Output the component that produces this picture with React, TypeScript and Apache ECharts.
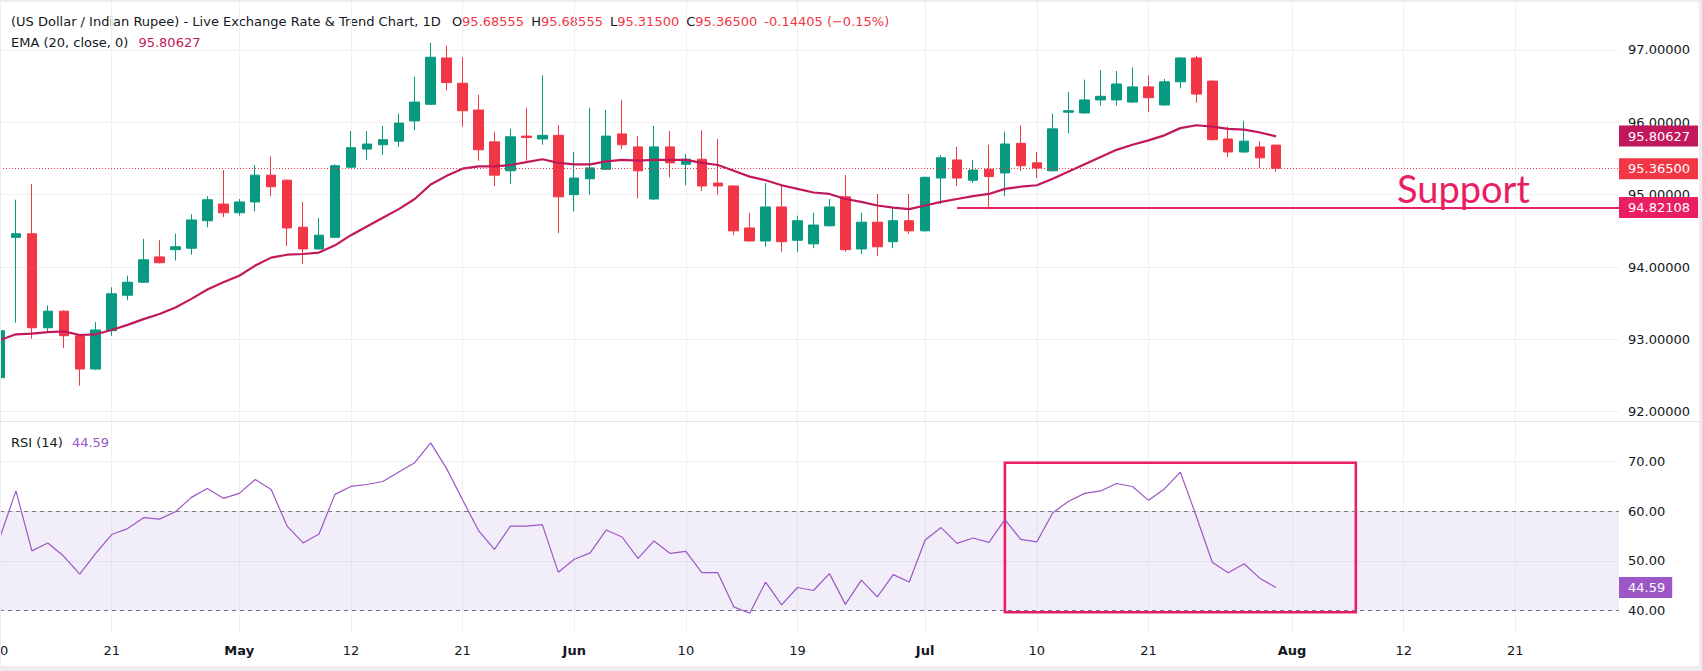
import React, { useEffect, useRef } from "react";
import * as echarts from "echarts";

// ---------- DATA (daily bars, Apr 10 .. Jul 31, weekdays) ----------
const opens = [
  92.47, 94.41, 94.46, 93.16, 93.39, 93.05, 92.59, 93.12, 93.61, 93.79,
  94.14, 94.24, 94.26, 94.64, 94.87, 94.75, 94.9, 95.27, 95.2, 94.55,
  94.25, 94.41, 95.38, 95.63, 95.69, 95.74, 96.02, 96.25, 96.89, 96.54,
  96.17, 95.73, 95.33, 95.81, 95.77, 95.82, 95.0, 95.22, 95.35, 95.84,
  95.66, 94.94, 95.66, 95.42, 95.49, 95.16, 95.12, 94.54, 94.36, 94.83,
  94.37, 94.32, 94.57, 94.97, 94.25, 94.62, 94.35, 94.64, 94.5, 95.23,
  95.48, 95.2, 95.35, 95.3, 95.71, 95.44, 95.33, 96.14, 96.13, 96.31,
  96.31, 96.28, 96.49, 96.24, 96.56, 96.89, 96.57, 95.77, 95.59, 95.66,
  95.68555,
];
const highs = [
  93.14, 94.93, 95.15, 93.47, 93.4, 93.06, 93.24, 93.72, 93.88, 94.39,
  94.37, 94.46, 94.73, 94.98, 95.34, 94.94, 95.41, 95.53, 95.21, 94.9,
  94.68, 95.42, 95.88, 95.88, 95.95, 96.12, 96.63, 97.1, 97.06, 96.9,
  96.38, 95.87, 95.91, 96.2, 96.65, 95.96, 95.59, 96.2, 96.17, 96.31,
  95.81, 95.95, 95.88, 95.56, 95.89, 95.77, 95.13, 94.75, 95.16, 95.15,
  94.71, 94.75, 94.94, 95.27, 94.75, 95.01, 94.83, 95.01, 95.25, 95.55,
  95.66, 95.48, 95.69, 95.87, 95.96, 95.59, 96.12, 96.42, 96.59, 96.72,
  96.71, 96.76, 96.65, 96.6, 96.9, 96.92, 96.58, 95.94, 96.02, 95.74,
  95.68555,
];
const lows = [
  92.45, 93.23, 93.01, 93.09, 92.88, 92.36, 92.58, 93.05, 93.54, 93.78,
  94.05, 94.09, 94.17, 94.55, 94.69, 94.71, 94.77, 94.98, 94.29, 94.04,
  94.24, 94.4, 95.37, 95.48, 95.55, 95.66, 95.89, 96.24, 96.44, 95.94,
  95.47, 95.12, 95.15, 95.47, 95.69, 94.47, 94.77, 95.0, 95.34, 95.63,
  94.95, 94.93, 95.24, 95.13, 95.05, 95.0, 94.44, 94.35, 94.28, 94.21,
  94.21, 94.26, 94.56, 94.21, 94.18, 94.15, 94.26, 94.46, 94.49, 94.87,
  95.12, 95.16, 94.8, 94.98, 95.33, 95.23, 95.32, 95.85, 96.12, 96.23,
  96.23, 96.27, 96.14, 96.23, 96.47, 96.27, 95.75, 95.52, 95.58, 95.37,
  95.315,
];
const closes = [
  93.12, 94.46, 93.16, 93.39, 93.05, 92.59, 93.13, 93.63, 93.79, 94.1,
  94.06, 94.28, 94.65, 94.93, 94.75, 94.9, 95.27, 95.11, 94.54, 94.25,
  94.44, 95.4, 95.65, 95.7, 95.76, 95.99, 96.28, 96.9, 96.55, 96.16,
  95.62, 95.27, 95.8, 95.79, 95.82, 94.97, 95.23, 95.37, 95.81, 95.69,
  95.33, 95.66, 95.44, 95.49, 95.12, 95.12, 94.5, 94.36, 94.83, 94.35,
  94.64, 94.58, 94.83, 94.24, 94.62, 94.28, 94.64, 94.5, 95.24, 95.51,
  95.23, 95.34, 95.25, 95.7, 95.4, 95.37, 95.91, 96.16, 96.31, 96.36,
  96.53, 96.49, 96.34, 96.56, 96.89, 96.39, 95.76, 95.59, 95.74, 95.50905,
  95.365,
];
const ema20 = [
  92.99, 93.07, 93.08, 93.1, 93.11, 93.06, 93.07, 93.13, 93.2, 93.28,
  93.35, 93.44, 93.56, 93.69, 93.79, 93.88, 94.02, 94.13, 94.17, 94.18,
  94.2, 94.3, 94.44, 94.56, 94.68, 94.8, 94.94, 95.14, 95.26, 95.36,
  95.39, 95.39, 95.41, 95.45, 95.49, 95.44, 95.42, 95.42, 95.46, 95.48,
  95.47, 95.48, 95.48, 95.48, 95.44, 95.41, 95.33, 95.25, 95.2, 95.13,
  95.08, 95.03, 95.01, 94.94, 94.9, 94.85, 94.82, 94.8, 94.85, 94.9,
  94.94, 94.98, 95.01, 95.08, 95.11, 95.13, 95.22, 95.32, 95.42, 95.52,
  95.62, 95.69, 95.75, 95.82, 95.92, 95.96, 95.94, 95.91, 95.9, 95.86,
  95.80627,
];
const rsi14 = [
  54.8, 64.1, 52.0, 53.6, 50.9, 47.3, 51.5, 55.3, 56.5, 58.7,
  58.4, 59.9, 62.8, 64.6, 62.6, 63.6, 66.4, 64.4, 57.0, 53.6,
  55.4, 63.4, 65.0, 65.4, 66.0, 67.9, 69.8, 73.8, 68.6, 62.3,
  56.1, 52.3, 57.0, 57.0, 57.3, 47.7, 50.3, 51.6, 56.2, 54.8,
  50.5, 54.0, 51.5, 51.9, 47.6, 47.6, 40.7, 39.4, 45.7, 41.1,
  44.6, 44.0, 47.4, 41.2, 46.1, 42.7, 47.2, 45.7, 54.2, 56.7,
  53.5, 54.6, 53.7, 58.3, 54.3, 53.8, 59.7, 62.0, 63.6, 64.1,
  65.6, 65.0, 62.2, 64.5, 67.9, 59.0, 49.7, 47.6, 49.4, 46.4,
  44.59,
];
// time-axis ticks (bar index -> label)
const tickIndex = [0, 7, 15, 22, 29, 36, 43, 50, 58, 65, 72, 81, 88, 95];
const tickText = ["10", "21", "May", "12", "21", "Jun", "10", "19", "Jul", "10", "21", "Aug", "12", "21"];
const priceTicks = [92, 93, 94, 95, 96, 97];
const rsiTicks = [40, 50, 60, 70];
const rsiBands = [40, 60];
const supportLevel = 94.82108;
const supportStartIndex = 60;
const supportLabelIndex = 91.75;
const rsiBoxRange = [63, 85];
const rsiBoxLevels = [69.8, 39.6];

// ---------- STYLE ----------
const UP = "#089981";
const DOWN = "#F23645";
const EMA_C = "#C2185B";
const SUP_C = "#E91E63";
const RSI_C = "#9C56C5";
const TXT = "#131722";
const GRIDC = "#F0F0F3";
const FONT = "DejaVu Sans";
const FS = 13;
const X_MIN = 0;
const X_MAX = 101.5;
const CLEAR = "rgba(0,0,0,0)";

function tag(bg: string, text: string) {
  return {
    show: true,
    position: "end",
    distance: 0,
    formatter: text,
    color: "#ffffff",
    backgroundColor: bg,
    padding: [4, 8, 4, 9],
    fontSize: FS,
    lineHeight: 13,
    fontFamily: FONT,
  };
}

function buildOption() {
  const n = closes.length;
  const last = n - 1;
  const candleData = opens.map((o, i) => [i, o, closes[i], lows[i], highs[i]]);
  const emaData = ema20.map((v, i) => [i, v]);
  const rsiData = rsi14.map((v, i) => [i, v]);
  const lastClose = closes[last];
  const lastEma = ema20[last];
  const lastRsi = rsi14[last];
  const chg = closes[last] - closes[last - 1];
  const pct = (chg / closes[last - 1]) * 100;
  const chgStr = chg.toFixed(5);
  const pctStr = (pct < 0 ? "\u2212" : "+") + Math.abs(pct).toFixed(2) + "%";

  const titleText =
    "{t|(US Dollar / Indian Rupee) - Live Exchange Rate & Trend Chart, 1D}{G| }" +
    `{t|O}{v|${opens[last].toFixed(5)}}{g| }` +
    `{t|H}{v|${highs[last].toFixed(5)}}{g| }` +
    `{t|L}{v|${lows[last].toFixed(5)}}{g| }` +
    `{t|C}{v|${closes[last].toFixed(5)}}{g| }` +
    `{v|${chgStr} (${pctStr})}`;

  const baseFont = { fontFamily: FONT, fontSize: FS };

  return {
    animation: false,
    textStyle: { fontFamily: FONT },
    grid: [
      { left: 0, top: 2, width: 1619, height: 419, containLabel: false, outerBoundsMode: "none" },
      { left: 0, top: 421, width: 1619, height: 211, containLabel: false, outerBoundsMode: "none" },
    ],
    xAxis: [
      {
        type: "value",
        gridIndex: 0,
        min: X_MIN,
        max: X_MAX,
        axisLine: { show: false },
        axisTick: { show: false, customValues: tickIndex },
        axisLabel: { show: false, customValues: tickIndex },
        splitLine: { show: true, lineStyle: { color: GRIDC, width: 1 } },
      },
      {
        type: "value",
        gridIndex: 1,
        min: X_MIN,
        max: X_MAX,
        axisLine: { show: false },
        axisTick: { show: false, customValues: tickIndex },
        axisLabel: {
          customValues: tickIndex,
          margin: 12,
          color: TXT,
          fontSize: FS,
          fontFamily: FONT,
          formatter: (v: number) => {
            const k = tickIndex.indexOf(Math.round(v));
            if (k < 0) return "";
            const t = tickText[k];
            return isNaN(Number(t)) ? `{b|${t}}` : `{n|${t}}`;
          },
          rich: {
            b: { ...baseFont, fontWeight: "bold", color: TXT },
            n: { ...baseFont, color: TXT },
          },
        },
        splitLine: { show: true, lineStyle: { color: GRIDC, width: 1 } },
      },
    ],
    yAxis: [
      {
        type: "value",
        gridIndex: 0,
        position: "right",
        min: 91.8714,
        max: 97.6635,
        axisLine: { show: false },
        axisTick: { show: false, customValues: priceTicks },
        axisLabel: {
          customValues: priceTicks,
          margin: 9,
          color: TXT,
          fontSize: FS,
          fontFamily: FONT,
          formatter: (v: number) => v.toFixed(5),
        },
        splitLine: { show: true, lineStyle: { color: GRIDC, width: 1 } },
      },
      {
        type: "value",
        gridIndex: 1,
        position: "right",
        min: 35.619,
        max: 78.217,
        axisLine: { show: false },
        axisTick: { show: false, customValues: rsiTicks },
        axisLabel: {
          customValues: rsiTicks,
          margin: 9,
          color: TXT,
          fontSize: FS,
          fontFamily: FONT,
          formatter: (v: number) => v.toFixed(2),
        },
        splitLine: { show: true, lineStyle: { color: GRIDC, width: 1 } },
      },
    ],
    graphic: [
      {
        type: "line",
        silent: true,
        z: 10,
        shape: { x1: 0, y1: 421.5, x2: 1702, y2: 421.5 },
        style: { stroke: "#E0E3EB", lineWidth: 1 },
      },
      {
        type: "text",
        silent: true,
        x: 11,
        y: 21,
        style: {
          text: titleText,
          verticalAlign: "middle",
          rich: {
            t: { ...baseFont, fill: TXT, color: TXT },
            v: { ...baseFont, fill: DOWN, color: DOWN },
            g: { ...baseFont, width: 7 },
            G: { ...baseFont, width: 11 },
          },
        },
      },
      {
        type: "text",
        silent: true,
        x: 11,
        y: 42,
        style: {
          text: `{t|EMA (20, close, 0)}{g| }{v|${lastEma.toFixed(5)}}`,
          verticalAlign: "middle",
          rich: {
            t: { ...baseFont, fill: TXT, color: TXT },
            v: { ...baseFont, fill: EMA_C, color: EMA_C },
            g: { ...baseFont, width: 10 },
          },
        },
      },
      {
        type: "text",
        silent: true,
        x: 11,
        y: 442,
        style: {
          text: `{t|RSI (14)}{g| }{v|${lastRsi.toFixed(2)}}`,
          verticalAlign: "middle",
          rich: {
            t: { ...baseFont, fill: TXT, color: TXT },
            v: { ...baseFont, fill: RSI_C, color: RSI_C },
            g: { ...baseFont, width: 9 },
          },
        },
      },
    ],
    series: [
      {
        type: "candlestick",
        name: "USDINR",
        xAxisIndex: 0,
        yAxisIndex: 0,
        data: candleData,
        encode: { x: 0, y: [1, 2, 3, 4] },
        barWidth: 10,
        clip: true,
        z: 2,
        itemStyle: {
          color: UP,
          color0: DOWN,
          borderColor: UP,
          borderColor0: DOWN,
          borderWidth: 1,
        },
        markLine: {
          silent: true,
          symbol: ["none", "none"],
          animation: false,
          data: [
            {
              yAxis: lastClose,
              lineStyle: { color: DOWN, type: [1, 2], width: 1 },
              label: tag(DOWN, lastClose.toFixed(5)),
            },
            [
              {
                coord: [supportStartIndex, supportLevel],
                lineStyle: { color: SUP_C, type: "solid", width: 2 },
                label: tag(SUP_C, supportLevel.toFixed(5)),
              },
              { coord: [X_MAX, supportLevel] },
            ],
          ],
        },
        markPoint: {
          silent: true,
          animation: false,
          symbol: "rect",
          symbolSize: [1, 1],
          itemStyle: { color: CLEAR },
          data: [
            {
              coord: [supportLabelIndex, supportLevel],
              label: {
                show: true,
                position: "top",
                distance: 0,
                formatter: "Support",
                color: SUP_C,
                fontSize: 38,
                fontFamily: "Lato",
              },
            },
          ],
        },
      },
      {
        type: "line",
        name: "EMA 20",
        xAxisIndex: 0,
        yAxisIndex: 0,
        data: emaData,
        symbol: "none",
        clip: true,
        z: 3,
        lineStyle: { color: EMA_C, width: 2.2 },
        itemStyle: { color: EMA_C },
        markLine: {
          silent: true,
          symbol: ["none", "none"],
          animation: false,
          data: [
            {
              yAxis: lastEma,
              lineStyle: { color: CLEAR, width: 1 },
              label: tag(EMA_C, lastEma.toFixed(5)),
            },
          ],
        },
      },
      {
        type: "line",
        name: "RSI 14",
        xAxisIndex: 1,
        yAxisIndex: 1,
        data: rsiData,
        symbol: "none",
        clip: true,
        z: 3,
        lineStyle: { color: RSI_C, width: 1.2 },
        itemStyle: { color: RSI_C },
        markArea: {
          silent: true,
          animation: false,
          label: { show: false },
          data: [
            [
              { yAxis: rsiBands[0], itemStyle: { color: "rgba(126,87,194,0.1)" } },
              { yAxis: rsiBands[1] },
            ],
            [
              {
                coord: [rsiBoxRange[0], rsiBoxLevels[0]],
                itemStyle: { color: CLEAR, borderColor: SUP_C, borderWidth: 2.6 },
              },
              { coord: [rsiBoxRange[1], rsiBoxLevels[1]] },
            ],
          ],
        },
        markLine: {
          silent: true,
          symbol: ["none", "none"],
          animation: false,
          data: [
            { yAxis: rsiBands[1], lineStyle: { color: "#787B86", type: [4, 4], width: 1 }, label: { show: false } },
            { yAxis: rsiBands[0], lineStyle: { color: "#787B86", type: [4, 4], width: 1 }, label: { show: false } },
            {
              yAxis: lastRsi,
              lineStyle: { color: CLEAR, width: 1 },
              label: { ...tag(RSI_C, lastRsi.toFixed(2)), padding: [4, 7, 4, 9] },
            },
          ],
        },
      },
    ],
  };
}

export default function App() {
  const ref = useRef<HTMLDivElement>(null);
  useEffect(() => {
    document.body.style.margin = "0";
    if (!ref.current) return;
    const chart = echarts.init(ref.current, undefined, { renderer: "svg" });
    chart.setOption(buildOption() as any);
    return () => chart.dispose();
  }, []);
  return (
    <div style={{ position: "relative", width: 1702, height: 671, background: "#ffffff", overflow: "hidden" }}>
      <div ref={ref} style={{ position: "absolute", left: 0, top: 0, width: 1702, height: 671 }} />
      <div
        style={{
          position: "absolute",
          left: 0,
          top: 0,
          width: 1702,
          height: 671,
          boxSizing: "border-box",
          borderTop: "2px solid #EDEDF1",
          borderRight: "3px solid #EDEDF1",
          borderBottom: "5px solid #EDEDF1",
          borderLeft: "1px solid #EDEDF1",
          pointerEvents: "none",
        }}
      />
    </div>
  );
}
